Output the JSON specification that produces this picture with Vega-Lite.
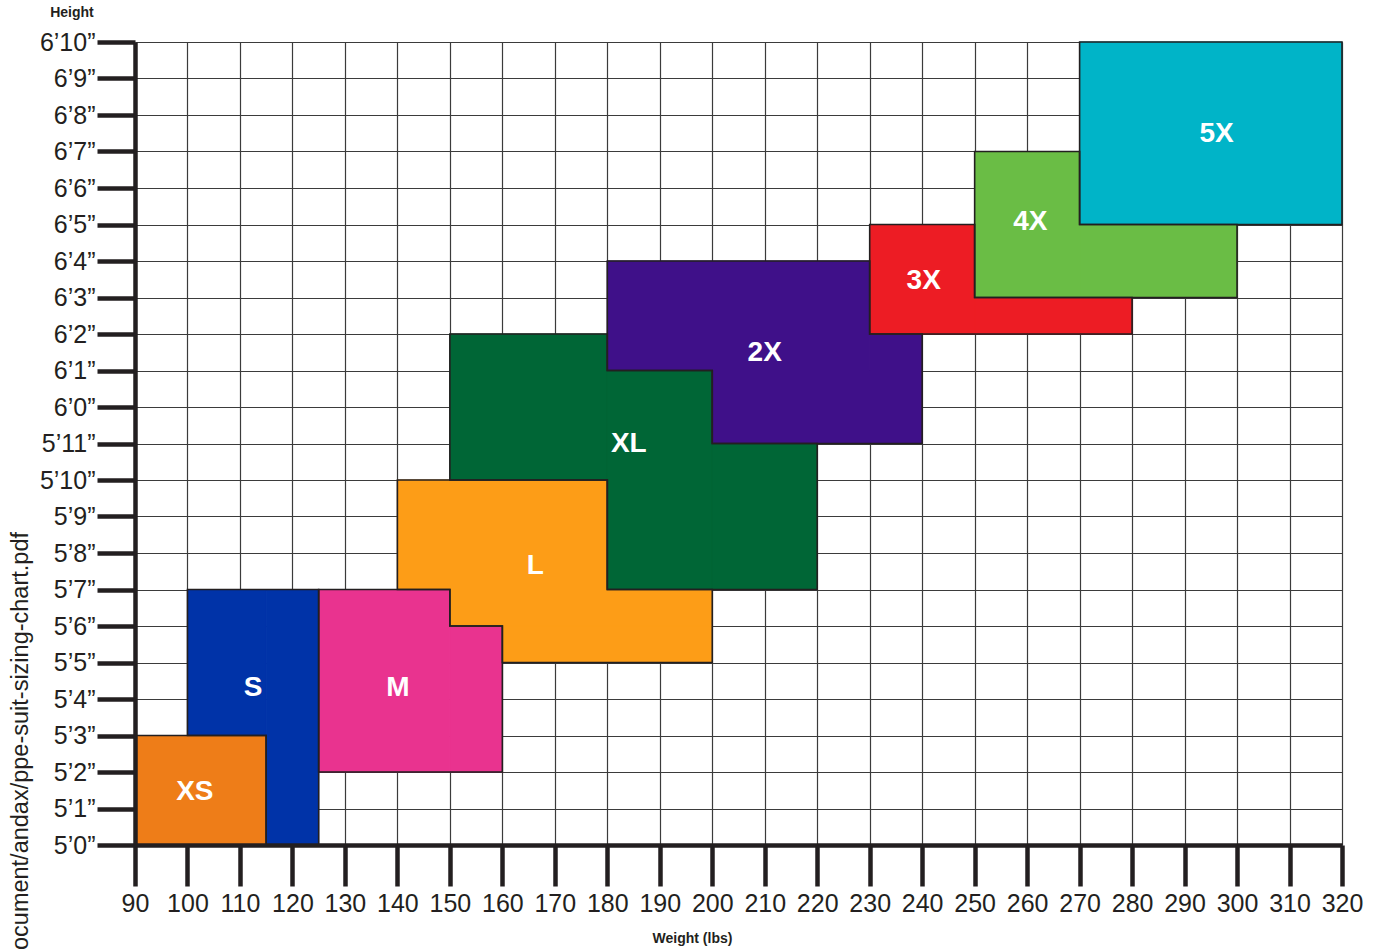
{
  "$schema": "https://vega.github.io/schema/vega-lite/v6.json",
  "width": 1207,
  "height": 803,
  "autosize": {"type": "none"},
  "padding": {"left": 135, "top": 42, "right": 32, "bottom": 106},
  "config": {"view": {"stroke": null}, "font": "Liberation Sans"},
  "title": {
    "text": "document/andax/ppe-suit-sizing-chart.pdf",
    "orient": "left",
    "anchor": "end",
    "frame": "group",
    "fontSize": 23.5,
    "fontWeight": "normal",
    "color": "#231F20",
    "offset": 7,
    "dx": -490
  },
  "datasets": {
    "fills": [
      {"size": "XS", "x": 90, "x2": 115, "y": 60, "y2": 63},
      {"size": "S", "x": 100, "x2": 115, "y": 63, "y2": 67},
      {"size": "S", "x": 115, "x2": 125, "y": 60, "y2": 67},
      {"size": "M", "x": 125, "x2": 150, "y": 62, "y2": 67},
      {"size": "M", "x": 150, "x2": 160, "y": 62, "y2": 66},
      {"size": "L", "x": 140, "x2": 180, "y": 67, "y2": 70},
      {"size": "L", "x": 150, "x2": 200, "y": 66, "y2": 67},
      {"size": "L", "x": 160, "x2": 200, "y": 65, "y2": 66},
      {"size": "XL", "x": 150, "x2": 180, "y": 70, "y2": 74},
      {"size": "XL", "x": 180, "x2": 200, "y": 67, "y2": 73},
      {"size": "XL", "x": 200, "x2": 220, "y": 67, "y2": 71},
      {"size": "2X", "x": 180, "x2": 230, "y": 73, "y2": 76},
      {"size": "2X", "x": 200, "x2": 240, "y": 71, "y2": 73},
      {"size": "2X", "x": 230, "x2": 240, "y": 73, "y2": 74},
      {"size": "3X", "x": 230, "x2": 250, "y": 74, "y2": 77},
      {"size": "3X", "x": 250, "x2": 280, "y": 74, "y2": 75},
      {"size": "4X", "x": 250, "x2": 270, "y": 75, "y2": 79},
      {"size": "4X", "x": 270, "x2": 300, "y": 75, "y2": 77},
      {"size": "5X", "x": 270, "x2": 320, "y": 77, "y2": 82}
    ],
    "outline": [
      {"size": "XS", "i": 0, "x": 90, "y": 60},
      {"size": "XS", "i": 1, "x": 115, "y": 60},
      {"size": "XS", "i": 2, "x": 115, "y": 63},
      {"size": "XS", "i": 3, "x": 90, "y": 63},
      {"size": "XS", "i": 4, "x": 90, "y": 60},
      {"size": "S", "i": 0, "x": 100, "y": 63},
      {"size": "S", "i": 1, "x": 100, "y": 67},
      {"size": "S", "i": 2, "x": 125, "y": 67},
      {"size": "S", "i": 3, "x": 125, "y": 60},
      {"size": "S", "i": 4, "x": 115, "y": 60},
      {"size": "S", "i": 5, "x": 115, "y": 63},
      {"size": "S", "i": 6, "x": 100, "y": 63},
      {"size": "M", "i": 0, "x": 125, "y": 62},
      {"size": "M", "i": 1, "x": 125, "y": 67},
      {"size": "M", "i": 2, "x": 150, "y": 67},
      {"size": "M", "i": 3, "x": 150, "y": 66},
      {"size": "M", "i": 4, "x": 160, "y": 66},
      {"size": "M", "i": 5, "x": 160, "y": 62},
      {"size": "M", "i": 6, "x": 125, "y": 62},
      {"size": "L", "i": 0, "x": 140, "y": 70},
      {"size": "L", "i": 1, "x": 180, "y": 70},
      {"size": "L", "i": 2, "x": 180, "y": 67},
      {"size": "L", "i": 3, "x": 200, "y": 67},
      {"size": "L", "i": 4, "x": 200, "y": 65},
      {"size": "L", "i": 5, "x": 160, "y": 65},
      {"size": "L", "i": 6, "x": 160, "y": 66},
      {"size": "L", "i": 7, "x": 150, "y": 66},
      {"size": "L", "i": 8, "x": 150, "y": 67},
      {"size": "L", "i": 9, "x": 140, "y": 67},
      {"size": "L", "i": 10, "x": 140, "y": 70},
      {"size": "XL", "i": 0, "x": 150, "y": 74},
      {"size": "XL", "i": 1, "x": 180, "y": 74},
      {"size": "XL", "i": 2, "x": 180, "y": 73},
      {"size": "XL", "i": 3, "x": 200, "y": 73},
      {"size": "XL", "i": 4, "x": 200, "y": 71},
      {"size": "XL", "i": 5, "x": 220, "y": 71},
      {"size": "XL", "i": 6, "x": 220, "y": 67},
      {"size": "XL", "i": 7, "x": 180, "y": 67},
      {"size": "XL", "i": 8, "x": 180, "y": 70},
      {"size": "XL", "i": 9, "x": 150, "y": 70},
      {"size": "XL", "i": 10, "x": 150, "y": 74},
      {"size": "2X", "i": 0, "x": 180, "y": 76},
      {"size": "2X", "i": 1, "x": 230, "y": 76},
      {"size": "2X", "i": 2, "x": 230, "y": 74},
      {"size": "2X", "i": 3, "x": 240, "y": 74},
      {"size": "2X", "i": 4, "x": 240, "y": 71},
      {"size": "2X", "i": 5, "x": 200, "y": 71},
      {"size": "2X", "i": 6, "x": 200, "y": 73},
      {"size": "2X", "i": 7, "x": 180, "y": 73},
      {"size": "2X", "i": 8, "x": 180, "y": 76},
      {"size": "3X", "i": 0, "x": 230, "y": 77},
      {"size": "3X", "i": 1, "x": 250, "y": 77},
      {"size": "3X", "i": 2, "x": 250, "y": 75},
      {"size": "3X", "i": 3, "x": 280, "y": 75},
      {"size": "3X", "i": 4, "x": 280, "y": 74},
      {"size": "3X", "i": 5, "x": 230, "y": 74},
      {"size": "3X", "i": 6, "x": 230, "y": 77},
      {"size": "4X", "i": 0, "x": 250, "y": 79},
      {"size": "4X", "i": 1, "x": 270, "y": 79},
      {"size": "4X", "i": 2, "x": 270, "y": 77},
      {"size": "4X", "i": 3, "x": 300, "y": 77},
      {"size": "4X", "i": 4, "x": 300, "y": 75},
      {"size": "4X", "i": 5, "x": 250, "y": 75},
      {"size": "4X", "i": 6, "x": 250, "y": 79},
      {"size": "5X", "i": 0, "x": 270, "y": 82},
      {"size": "5X", "i": 1, "x": 320, "y": 82},
      {"size": "5X", "i": 2, "x": 320, "y": 77},
      {"size": "5X", "i": 3, "x": 270, "y": 77},
      {"size": "5X", "i": 4, "x": 270, "y": 82}
    ],
    "labels": [
      {"size": "XS", "x": 101.4, "y": 61.45},
      {"size": "S", "x": 112.5, "y": 64.3},
      {"size": "M", "x": 140.1, "y": 64.3},
      {"size": "L", "x": 166.3, "y": 67.64},
      {"size": "XL", "x": 184.1, "y": 71.0},
      {"size": "2X", "x": 210.0, "y": 73.48},
      {"size": "3X", "x": 240.3, "y": 75.45},
      {"size": "4X", "x": 260.6, "y": 77.07},
      {"size": "5X", "x": 296.1, "y": 79.48}
    ]
  },
  "resolve": {"axis": {"x": "independent", "y": "independent"}},
  "layer": [
    {
      "data": {"name": "fills"},
      "mark": {"type": "rect", "strokeWidth": 1},
      "encoding": {
        "x": {
          "field": "x", "type": "quantitative",
          "scale": {"domain": [90, 320], "nice": false, "zero": false},
          "axis": {
            "orient": "bottom",
            "values": [90, 100, 110, 120, 130, 140, 150, 160, 170, 180, 190, 200, 210, 220, 230, 240, 250, 260, 270, 280, 290, 300, 310, 320],
            "grid": true, "gridColor": "#3b3b3b", "gridWidth": 1.2,
            "domain": false, "ticks": false, "labels": false, "title": null, "zindex": 0
          }
        },
        "x2": {"field": "x2"},
        "y": {
          "field": "y", "type": "quantitative",
          "scale": {"domain": [60, 82], "nice": false, "zero": false},
          "axis": {
            "orient": "left",
            "values": [60, 61, 62, 63, 64, 65, 66, 67, 68, 69, 70, 71, 72, 73, 74, 75, 76, 77, 78, 79, 80, 81, 82],
            "grid": true, "gridColor": "#3b3b3b", "gridWidth": 1.2,
            "domain": false, "ticks": false, "labels": false, "title": null, "zindex": 0
          }
        },
        "y2": {"field": "y2"},
        "color": {
          "field": "size", "type": "nominal", "legend": null,
          "scale": {
            "domain": ["XS", "S", "M", "L", "XL", "2X", "3X", "4X", "5X"],
            "range": ["#EE7D18", "#0033A8", "#E9338F", "#FD9D17", "#006636", "#3F1089", "#ED1C24", "#6ABD45", "#00B4C8"]
          }
        },
        "stroke": {
          "field": "size", "type": "nominal", "legend": null,
          "scale": {
            "domain": ["XS", "S", "M", "L", "XL", "2X", "3X", "4X", "5X"],
            "range": ["#EE7D18", "#0033A8", "#E9338F", "#FD9D17", "#006636", "#3F1089", "#ED1C24", "#6ABD45", "#00B4C8"]
          }
        }
      }
    },
    {
      "data": {"name": "outline"},
      "mark": {"type": "line", "stroke": "#231F20", "strokeWidth": 1.6, "strokeJoin": "miter", "strokeCap": "square"},
      "encoding": {
        "x": {"field": "x", "type": "quantitative", "scale": {"domain": [90, 320], "nice": false, "zero": false}, "axis": null},
        "y": {"field": "y", "type": "quantitative", "scale": {"domain": [60, 82], "nice": false, "zero": false}, "axis": null},
        "detail": {"field": "size", "type": "nominal"},
        "order": {"field": "i", "type": "quantitative"}
      }
    },
    {
      "data": {"name": "labels"},
      "mark": {"type": "text", "fontSize": 28, "fontWeight": "bold", "fill": "#FFFFFF", "align": "center", "baseline": "middle"},
      "encoding": {
        "x": {
          "field": "x", "type": "quantitative",
          "scale": {"domain": [90, 320], "nice": false, "zero": false},
          "axis": {
            "orient": "bottom",
            "values": [90, 100, 110, 120, 130, 140, 150, 160, 170, 180, 190, 200, 210, 220, 230, 240, 250, 260, 270, 280, 290, 300, 310, 320],
            "grid": false,
            "domainColor": "#231F20", "domainWidth": 4.5,
            "tickColor": "#231F20", "tickWidth": 4.5, "tickSize": 41,
            "labelFontSize": 25, "labelColor": "#231F20", "labelPadding": 5,
            "labelFlush": false, "labelOverlap": false,
            "title": "Weight (lbs)", "titleFontSize": 14, "titleFontWeight": "bold", "titleColor": "#231F20",
            "titleX": 557, "titleY": 93, "titleAlign": "center", "titleBaseline": "middle",
            "zindex": 1
          }
        },
        "y": {
          "field": "y", "type": "quantitative",
          "scale": {"domain": [60, 82], "nice": false, "zero": false},
          "axis": {
            "orient": "left",
            "values": [60, 61, 62, 63, 64, 65, 66, 67, 68, 69, 70, 71, 72, 73, 74, 75, 76, 77, 78, 79, 80, 81, 82],
            "labelExpr": "floor(datum.value / 12) + '’' + (datum.value % 12) + '”'",
            "grid": false,
            "domainColor": "#231F20", "domainWidth": 4.5,
            "tickColor": "#231F20", "tickWidth": 4.5, "tickSize": 38,
            "labelFontSize": 25, "labelColor": "#231F20", "labelPadding": 2,
            "labelFlush": false, "labelOverlap": false,
            "title": "Height", "titleAngle": 0, "titleFontSize": 14, "titleFontWeight": "bold", "titleColor": "#231F20",
            "titleX": -63.5, "titleY": -30, "titleAlign": "center", "titleBaseline": "middle",
            "zindex": 1
          }
        },
        "text": {"field": "size", "type": "nominal"}
      }
    }
  ]
}
